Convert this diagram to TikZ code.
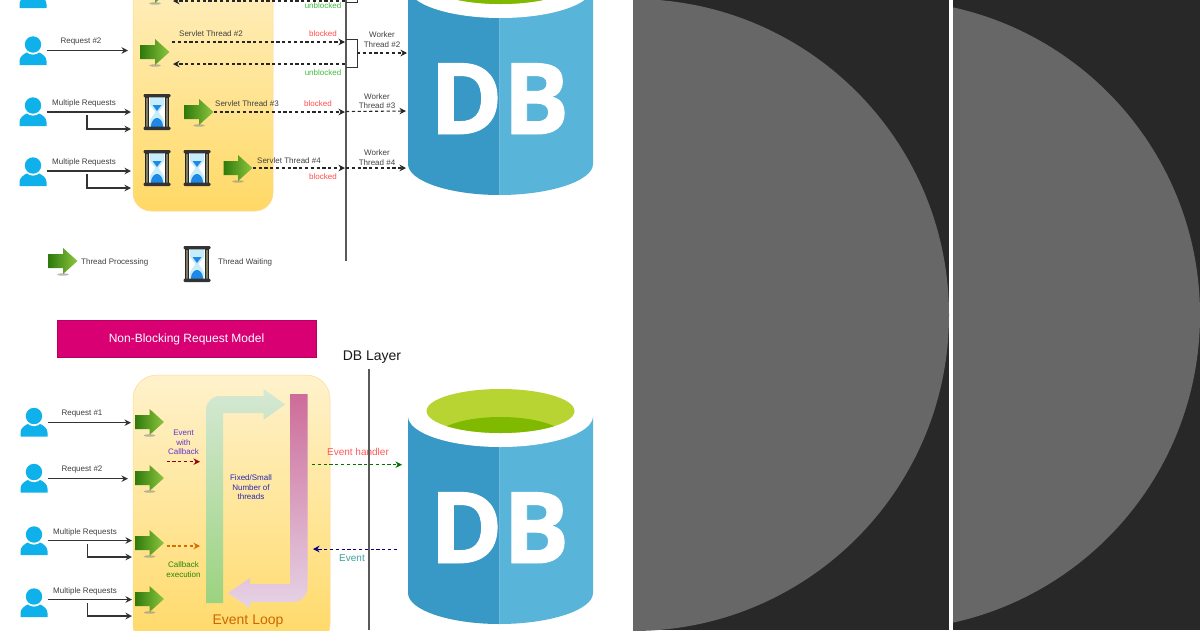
\documentclass[tikz,border=0pt]{standalone}
\usepackage{fontspec}
\setmainfont{Liberation Sans}
\newfontfamily\dbfont[BoldFeatures={FakeBold=0.9}]{Open Sans}
\usepackage{xcolor}
\usetikzlibrary{positioning,arrows.meta,calc}
\definecolor{userblue}{HTML}{0FB1EA}
\definecolor{panelgrey}{HTML}{282828}
\definecolor{discgrey}{HTML}{676767}
\definecolor{dbdark}{HTML}{3999C6}
\definecolor{dblight}{HTML}{59B4D9}
\definecolor{dbrim}{HTML}{B8D432}
\definecolor{dbwater}{HTML}{7FBA00}
\definecolor{banner}{HTML}{D80073}
\definecolor{boxtop}{HTML}{FFF2CC}
\definecolor{boxbottom}{HTML}{FFD966}
\definecolor{threaddark}{HTML}{2F7A0C}
\definecolor{threadlight}{HTML}{8DC63F}
\definecolor{sandblue}{HTML}{1E88E5}
\definecolor{postbrown}{HTML}{7D7A62}
\definecolor{looptop}{HTML}{D5E8D4}
\definecolor{loopbottom}{HTML}{9BD37F}
\definecolor{backtop}{HTML}{CD6C99}
\definecolor{backbottom}{HTML}{E6D3E6}
\tikzset{
  lbl/.style={font=\fontsize{8}{9.6}\selectfont,text=black!75,inner sep=0pt,align=center},
  reqline/.style={line width=1.1pt,draw=black!80,-{Stealth[length=6.5pt,width=6.5pt]}},
  dashline/.style={line width=1.1pt,draw=black!85,dash pattern=on 3.2pt off 2.6pt,-{Stealth[length=6.5pt,width=6.5pt]}},
  lane/.style={line width=1.2pt,draw=black!65},
  yellowbox/.style={draw=boxbottom!70!orange!60,line width=.5pt,top color=boxtop,bottom color=boxbottom},
  userpic/.pic={
    \fill[userblue] (-13.5,14) -- (13.5,14) -- (13.5,10) .. controls (13.5,6) and (10,3) .. (5,1) -- (-5,1) .. controls (-10,3) and (-13.5,6) .. (-13.5,10) -- cycle;
    \fill[white] (0,-6) circle (9.6pt);
    \fill[userblue] (0,-6.5) circle (8.2pt);
    \node[inner sep=0pt,minimum width=27pt,minimum height=29pt] (-box) {};
  },
  threadpic/.pic={
    \fill[black!45,opacity=.6] (0,13.5) ellipse [x radius=6pt,y radius=1.2pt];
    \shade[left color=threaddark,right color=threadlight] (-14.5,-7) -- (0,-7) -- (0,-13) -- (14.5,0) -- (0,13) -- (0,7) -- (-14.5,7) -- cycle;
    \node[inner sep=0pt,minimum width=29pt,minimum height=26pt] (-box) {};
  },
  hourglasspic/.pic={
    \fill[white] (-8.5,-15) rectangle (8.5,15);
    \fill[cyan!22] (-7,-15) -- (7,-15) -- (7,-7) -- (1.5,0) -- (7,8) -- (7,15) -- (-7,15) -- (-7,8) -- (-1.5,0) -- (-7,-7) -- cycle;
    \fill[sandblue] (-4.5,-7) -- (4.5,-7) -- (0,-1) -- cycle;
    \fill[sandblue] (-6,15) .. controls (-6,8) and (-2,6) .. (0,6) .. controls (2,6) and (6,8) .. (6,15) -- cycle;
    \fill[postbrown] (-11.5,-15) rectangle (-8.5,15) (8.5,-15) rectangle (11.5,15);
    \draw[black!85,line width=.6pt] (-11.5,-15) rectangle (-8.5,15) (8.5,-15) rectangle (11.5,15);
    \fill[black!80,rounded corners=1.2pt] (-13.5,-18) rectangle (13.5,-14.6) (-13.5,14.6) rectangle (13.5,18);
    \node[inner sep=0pt,minimum width=27pt,minimum height=36pt] (-box) {};
  },
  dbpic/.pic={
    \fill[dbdark] (-91.5,-208) -- (-91.5,-31) .. controls (-91.5,-14) and (-50,0) .. (0,0) -- (0,-208) -- cycle;
    \fill[dblight] (93.5,-208) -- (93.5,-31) .. controls (93.5,-14) and (50,0) .. (0,0) -- (0,-208) -- cycle;
    \fill[white] (1,-208) ellipse [x radius=92.5pt,y radius=31pt];
    \fill[dbrim] (1,-213) ellipse [x radius=74pt,y radius=22pt];
    \begin{scope}
    \clip (1,-213) ellipse [x radius=74pt,y radius=22pt];
    \fill[dbwater] (1,-185) ellipse [x radius=66pt,y radius=22pt];
    \end{scope}
    \node[anchor=base,inner sep=0pt,text=white,font=\dbfont\bfseries\fontsize{99}{99}\selectfont] (-label) at (0,-61) {DB};
  }
}
\begin{document}
\begin{tikzpicture}[x=1pt,y=-1pt]
\colorlet{blockedred}{red!70!white}
\colorlet{unblockedgreen}{green!65!black!75!white}
\clip (0,0) rectangle (1200,630);
\fill[white] (0,0) rectangle (1200,630);
% right hand panels
\begin{scope}
\clip (633,0) rectangle (949,630);
\fill[panelgrey] (633,0) rectangle (949,630);
\fill[discgrey] (633,315) circle (316pt);
\end{scope}
\begin{scope}
\clip (953,0) rectangle (1200,630);
\fill[panelgrey] (953,0) rectangle (1200,630);
\fill[discgrey] (885,315) circle (315pt);
\end{scope}
% blocking model
\draw[yellowbox,rounded corners=18pt] (133,-60) rectangle (273,211);
\foreach \name/\ypos in {uA/-6,uB/51,uC/112,uD/172}
\pic (\name) at (33,\ypos) {userpic};
\pic (tA) at (155,-10) {threadpic};
\pic (tB) at (155,52) {threadpic};
\pic (tC) at (199,112) {threadpic};
\pic (tD) at (238,168) {threadpic};
\pic (hC) at (157,112) {hourglasspic};
\pic (hD) at (157,168) {hourglasspic};
\pic (hE) at (197,168) {hourglasspic};
\pic (dbTop) at (499.5,195) {dbpic};
\coordinate (inB) at (128,50.5);
\coordinate (inC) at (131,112);
\coordinate (inCb) at (131,129);
\coordinate (inD) at (131,171);
\coordinate (inDb) at (131,188);
\draw[reqline] (uB-box.east |- inB) -- (inB);
\draw[reqline] (uC-box.east |- inC) -- (inC);
\draw[reqline] (uD-box.east |- inD) -- (inD);
\draw[reqline] (87,115) |- (inCb);
\draw[reqline] (87,174) |- (inDb);
\node[lbl] (reqB) at (81,41.5) {Request \#2};
\node[lbl] (reqC) at (84,103.5) {Multiple Requests};
\node[lbl] (reqD) at (84,162.5) {Multiple Requests};
% thread lines up to the layer
\coordinate (startA) at (345,1);
\coordinate (endA) at (173,1);
\coordinate (startB) at (172,42);
\coordinate (laneB) at (345,42);
\coordinate (startBb) at (345,64);
\coordinate (endB) at (173,64);
\coordinate (laneC) at (345,112);
\coordinate (laneD) at (345,168);
\draw[dashline] (startA) -- (endA);
\draw[dashline] (startB) -- (laneB);
\draw[dashline] (startBb) -- (endB);
\draw[dashline] (tC-box.east) -- (laneC);
\draw[dashline] (tD-box.east) -- (laneD);
\draw[lane] (346,-30) -- (346,261);
\draw[line width=1pt,draw=black!80] (346,-26) -- (357,-26) -- (357,2) -- (346,2);
\draw[line width=1pt,draw=black!80] (346,39) -- (357,39) -- (357,67) -- (346,67);
\coordinate (brB) at (357,53);
\coordinate (dbB) at (407,53);
\coordinate (dbC) at (406,111);
\coordinate (dbD) at (406,168);
\draw[dashline] (brB) -- (dbB);
\draw[dashline] (laneC) ++(1,-.5) -- (dbC);
\draw[dashline] (laneD) ++(1,0) -- (dbD);
\node[lbl] (srvB) at (211,34) {Servlet Thread \#2};
\node[lbl] (srvC) at (247,104) {Servlet Thread \#3};
\node[lbl] (srvD) at (289,160.5) {Servlet Thread \#4};
\node[lbl,text=blockedred] (blkB) at (323,34) {blocked};
\node[lbl,text=blockedred] (blkC) at (318,104) {blocked};
\node[lbl,text=blockedred] (blkD) at (323,177) {blocked};
\node[lbl,text=unblockedgreen] (unbA) at (323,5.5) {unblocked};
\node[lbl,text=unblockedgreen] (unbB) at (323,73) {unblocked};
\node[lbl] (wrkB) at (382,39.5) {Worker\\Thread \#2};
\node[lbl] (wrkC) at (377,101) {Worker\\Thread \#3};
\node[lbl] (wrkD) at (377,157.5) {Worker\\Thread \#4};
% legend
\pic (tLeg) at (63,261) {threadpic};
\pic (hLeg) at (197,264) {hourglasspic};
\node[lbl,anchor=west] (legA) at (81,262) {Thread Processing};
\node[lbl,anchor=west] (legB) at (218,262) {Thread Waiting};
% non-blocking model
\node[fill=banner,draw=banner!85!black,line width=.5pt,text=white,inner sep=0pt,minimum width=259pt,minimum height=37pt,text depth=0pt,font=\fontsize{12}{14}\selectfont] (title) at (186.5,338.5) {Non-Blocking Request Model};
\node[inner sep=0pt,font=\fontsize{14}{16}\selectfont,text=black!90] (layer) at (372,357.5) {DB Layer};
\draw[yellowbox,rounded corners=24pt] (133,375) rectangle (330,648);
\foreach \name/\ypos in {uE/422.5,uF/478.5,uG/541,uH/603}
\pic (\name) at (34,\ypos) {userpic};
\foreach \name/\ypos in {tE/422,tF/478,tG/543,tH/599}
\pic (\name) at (149.5,\ypos) {threadpic};
\pic (dbLow) at (499.5,624) {dbpic};
\coordinate (inE) at (131,422.7);
\coordinate (inF) at (128,478.7);
\coordinate (inG) at (132,540.5);
\coordinate (inGb) at (132,557);
\coordinate (inH) at (132,599.5);
\coordinate (inHb) at (132,616);
\draw[reqline] (uE-box.east |- inE) -- (inE);
\draw[reqline] (uF-box.east |- inF) -- (inF);
\draw[reqline] (uG-box.east |- inG) -- (inG);
\draw[reqline] (uH-box.east |- inH) -- (inH);
\draw[reqline] (87.5,543.5) |- (inGb);
\draw[reqline] (87.5,603) |- (inHb);
\node[lbl] (reqE) at (82,413.5) {Request \#1};
\node[lbl] (reqF) at (82,470) {Request \#2};
\node[lbl] (reqG) at (85,532.5) {Multiple Requests};
\node[lbl] (reqH) at (85,591.5) {Multiple Requests};
% event loop arrows
\shade[top color=looptop,bottom color=loopbottom]
  (206,603) -- (206,410) .. controls (206,402) and (212,396) .. (220,396) -- (263.5,396) -- (263.5,389) -- (285,404.5) -- (263.5,420) -- (263.5,413) -- (223,413) -- (223,603) -- cycle;
\shade[top color=backtop,bottom color=backbottom]
  (290,394) -- (307.5,394) -- (307.5,587) .. controls (307.5,596) and (301,602) .. (292,602) -- (250,602) -- (250,608) -- (228,593) -- (250,578) -- (250,584) -- (290,584) -- cycle;
\coordinate (cbA) at (166.5,461.7);
\coordinate (cbB) at (200,461.7);
\coordinate (cbC) at (166.5,546);
\coordinate (cbD) at (200,546);
\draw[dashline,draw=red!60!black] (cbA) -- (cbB);
\draw[dashline,draw=orange!85!black] (cbC) -- (cbD);
\node[lbl,text=blue!55!violet!80!white] (evCb) at (183.5,442.5) {Event\\with\\Callback};
\node[lbl,text=green!45!black!85!yellow] (cbEx) at (183.5,569.5) {Callback\\execution};
\node[lbl,text=blue!65!black!85!white] (fixed) at (251,487.5) {Fixed/Small\\Number of\\threads};
\node[inner sep=0pt,font=\fontsize{14}{16}\selectfont,text=orange!80!black] (loop) at (248,621) {Event Loop};
\node[inner sep=0pt,font=\fontsize{10}{12}\selectfont,text=red!65!white] (hdl) at (358,451.5) {Event handler};
\node[inner sep=0pt,font=\fontsize{10}{12}\selectfont,text=teal!75!white] (evt) at (352,558) {Event};
\coordinate (hdlA) at (312,464.7);
\coordinate (hdlB) at (402,464.7);
\coordinate (evtA) at (397,549);
\coordinate (evtB) at (313,549);
\draw[dashline,line width=.8pt,draw=green!45!black] (hdlA) -- (hdlB);
\draw[dashline,line width=.8pt,draw=blue!50!black] (evtA) -- (evtB);
\draw[lane] (369,369) -- (369,630);
\end{tikzpicture}
\end{document}
